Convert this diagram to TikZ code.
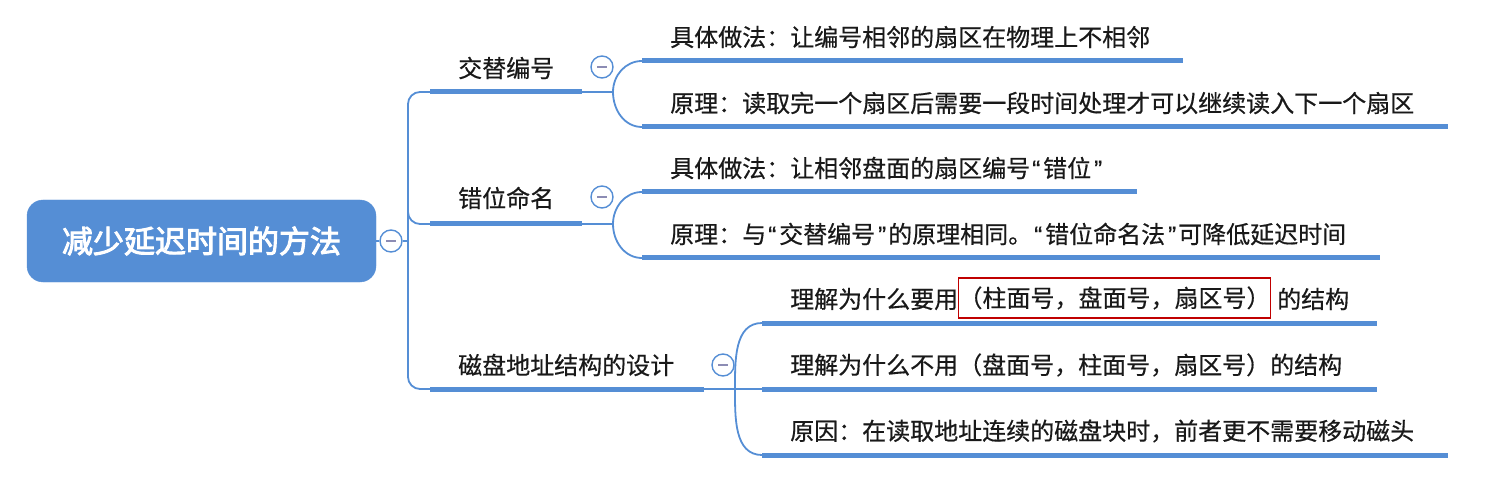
\documentclass[tikz,border=0pt]{standalone}
\usepackage{fontspec}
\newfontfamily\cjk[FakeBold=0.5]{Noto Sans CJK SC}
\newfontfamily\cjkb[AutoFakeBold=3]{Noto Sans CJK SC}
\newfontfamily\latq[FakeBold=0.5]{Liberation Sans}
\newcommand\myoq{\hspace{2pt}{\latq “}\hspace{3pt}}
\newcommand\mycq{\hspace{3pt}{\latq ”}\hspace{2pt}}
\definecolor{mapblue}{RGB}{85,142,213}
\definecolor{textc}{RGB}{25,25,25}
\definecolor{minusc}{RGB}{140,140,180}
\definecolor{redbox}{RGB}{192,0,0}
\tikzset{
  mline/.style={draw=mapblue, line width=1.8pt},
  uline/.style={draw=mapblue, line width=5pt, line cap=butt},
  fold/.style={circle, draw=mapblue, line width=1.4pt, fill=white, minimum size=22pt, inner sep=0pt,
    path picture={\draw[minusc, line width=1.8pt] ([xshift=-5pt]path picture bounding box.center) -- ([xshift=5pt]path picture bounding box.center);}},
  txt/.style={anchor=west, inner sep=0pt, text=textc, font=\cjk\fontsize{24}{26}\selectfont},
  rootbox/.style={rectangle, rounded corners=16pt, fill=mapblue, draw=mapblue, minimum width=349pt, minimum height=82pt, text=white, font=\cjkb\bfseries\fontsize{31}{33}\selectfont}
}
\begin{document}
\begin{tikzpicture}[x=1pt,y=-1pt]
\useasboundingbox (0,0) rectangle (1509,478);
% root
\node[rootbox] (root) at (201.5,241) {减少延迟时间的方法};
\node[fold] (f0) at (391,241) {};
\coordinate (r0) at (408,241);
\draw[mline] (root.east) -- (f0.west);
\draw[mline] (f0.east) -- (r0);
% coordinates
\coordinate (u1s) at (430,92);  \coordinate (u1e) at (582,92);
\coordinate (u2s) at (430,224); \coordinate (u2e) at (582,224);
\coordinate (u3s) at (430,389); \coordinate (u3e) at (704,389);
\coordinate (vb) at (408,389);
\coordinate (v2) at (408,200);
\coordinate (j1) at (613,92);
\coordinate (j2) at (613,224);
\coordinate (j3) at (735,389);
% trunk
\draw[mline, rounded corners=12pt] (u1s) -| (vb) -- (u3s);
\draw[mline, rounded corners=12pt] (v2) |- (u2s);
% branch 1
\node[txt] (b1) at (458,68) {交替编号};
\draw[uline] (u1s) -- (u1e);
\draw[mline] (u1e) -- (j1);
\node[fold] (f1) at (602,67) {};
\coordinate (c11s) at (642,61);  \coordinate (c11e) at (1183,61);
\coordinate (c12s) at (642,127); \coordinate (c12e) at (1448,127);
\draw[mline] (j1) to[out=90,in=180] (c11s);
\draw[mline] (j1) to[out=-90,in=180] (c12s);
\draw[uline] (c11s) -- (c11e);
\draw[uline] (c12s) -- (c12e);
\node[txt] (t11) at (670,37) {具体做法：让编号相邻的扇区在物理上不相邻};
\node[txt] (t12) at (670,103) {原理：读取完一个扇区后需要一段时间处理才可以继续读入下一个扇区};
% branch 2
\node[txt] (b2) at (458,198) {错位命名};
\draw[uline] (u2s) -- (u2e);
\draw[mline] (u2e) -- (j2);
\node[fold] (f2) at (602,197) {};
\coordinate (c21s) at (642,192); \coordinate (c21e) at (1137,192);
\coordinate (c22s) at (642,258); \coordinate (c22e) at (1380,258);
\draw[mline] (j2) to[out=90,in=180] (c21s);
\draw[mline] (j2) to[out=-90,in=180] (c22s);
\draw[uline] (c21s) -- (c21e);
\draw[uline] (c22s) -- (c22e);
\node[txt] (t21) at (670,168) {具体做法：让相邻盘面的扇区编号\myoq 错位\mycq};
\node[txt] (t22) at (670,234) {原理：与\myoq 交替编号\mycq 的原理相同。\myoq 错位命名法\mycq 可降低延迟时间};
% branch 3
\node[txt] (b3) at (458,365) {磁盘地址结构的设计};
\draw[uline] (u3s) -- (u3e);
\draw[mline] (u3e) -- (j3);
\node[fold] (f3) at (723,365) {};
\coordinate (c31s) at (762,323); \coordinate (c31e) at (1377,323);
\coordinate (c32s) at (762,389); \coordinate (c32e) at (1377,389);
\coordinate (c33s) at (762,455); \coordinate (c33e) at (1448,455);
\draw[mline] (j3) to[out=90,in=180] (c31s);
\draw[mline] (j3) -- (c32s);
\draw[mline] (j3) to[out=-90,in=180] (c33s);
\draw[uline] (c31s) -- (c31e);
\draw[uline] (c32s) -- (c32e);
\draw[uline] (c33s) -- (c33e);
\node[txt] (t31a) at (790,299) {理解为什么要用};
\node[txt, draw=redbox, line width=1.4pt, anchor=center, minimum width=301pt, minimum height=40pt] (t31b) at (1114.5,298) {（柱面号，盘面号，扇区号）};
\node[txt] (t31c) at (1277,299) {的结构};
\node[txt] (t32) at (790,365) {理解为什么不用（盘面号，柱面号，扇区号）的结构};
\node[txt] (t33) at (790,431) {原因：在读取地址连续的磁盘块时，前者更不需要移动磁头};
\end{tikzpicture}
\end{document}
